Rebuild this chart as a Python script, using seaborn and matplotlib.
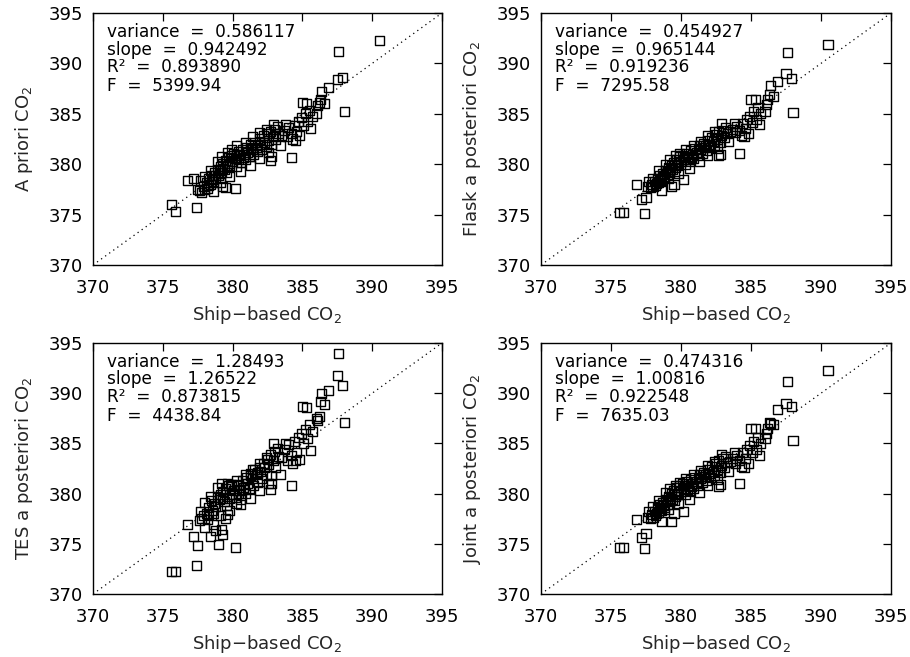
import matplotlib
matplotlib.use("Agg")
import matplotlib.pyplot as plt
import seaborn as sns
import pandas as pd

# Ship-based CO2 (x, shared by all four panels)
ship_co2 = [
    390.5, 387.6, 387.5, 387.9, 386.9, 386.4, 388.0, 385.0, 385.3, 386.3, 386.6, 386.0,
    384.2, 382.9, 382.7, 377.4, 375.6, 375.9, 376.8, 377.2, 377.5, 380.2, 379.3,
    377.6, 377.8, 377.9, 378.0, 378.1, 378.2, 378.3, 378.4, 378.5, 378.6, 378.7, 378.8,
    378.9, 379.0, 379.1, 379.2, 379.3, 379.4, 379.5, 379.6, 379.7, 379.8, 379.9, 380.0,
    380.1, 380.2, 380.3, 380.4, 380.5, 380.6, 380.7, 380.8, 380.9, 381.0, 381.1, 381.2,
    381.3, 381.4, 381.5, 381.6, 381.7, 381.8, 381.9, 382.0, 382.1, 382.2, 382.3, 382.4,
    382.5, 382.6, 382.7, 382.8, 382.9, 383.0, 383.1, 383.3, 383.5, 383.7, 383.9, 384.0,
    384.2, 384.3, 384.4, 384.6, 384.7, 384.8, 384.9, 385.1, 385.2, 385.4, 385.5, 385.6,
    385.7, 386.1, 386.2,
    378.25, 378.75, 379.25, 379.75, 380.25, 380.75, 381.25, 381.75, 380.45, 379.55,
    379.05, 378.55,
    378.9, 379.2, 379.6, 379.9, 380.3, 380.9, 381.4, 381.9, 382.4, 383.2, 383.8, 378.4,
    378.0, 377.7, 379.1, 379.8, 380.6, 381.3, 381.9, 382.6, 383.4, 384.5, 378.6, 379.5,
    382.8,
]

apriori_co2 = [
    392.3, 391.2, 388.4, 388.6, 387.6, 387.2, 385.2, 386.1, 386.0, 386.4, 386.0, 385.0,
    380.7, 383.9, 380.4, 375.7, 376.0, 375.3, 378.4, 378.6, 377.5, 377.6, 377.8,
    377.4, 377.2, 377.8, 377.5, 378.2, 377.6, 378.6, 378.0, 378.9, 378.3, 379.2, 378.6,
    379.5, 378.9, 379.8, 379.2, 380.1, 379.5, 380.4, 379.8, 380.7, 380.1, 380.9, 380.3,
    381.1, 380.6, 379.8, 381.3, 380.9, 380.2, 381.5, 381.0, 380.5, 381.7, 381.2, 380.8,
    382.0, 381.5, 381.0, 382.2, 381.7, 381.3, 382.5, 382.0, 381.5, 382.8, 382.2, 381.8,
    383.0, 382.4, 383.2, 382.0, 382.7, 383.4, 382.5, 383.0, 382.8, 383.3, 382.7, 383.6,
    383.0, 382.5, 383.8, 383.2, 384.2, 382.8, 384.6, 383.8, 385.0, 384.2, 385.3, 383.5,
    384.7, 385.8, 386.1,
    377.9, 378.9, 379.6, 379.9, 380.9, 380.7, 381.6, 381.9, 380.5, 379.2,
    379.4, 378.5,
    380.3, 380.8, 381.2, 381.5, 381.9, 382.2, 382.7, 383.1, 383.4, 383.7, 383.9, 379.4,
    378.8, 378.4, 378.2, 378.8, 379.3, 379.9, 380.6, 381.2, 381.9, 382.4, 377.3, 377.7,
    380.8,
]

flask_co2 = [
    391.9, 391.1, 389.0, 388.5, 388.2, 387.8, 385.1, 386.4, 386.4, 386.9, 386.7, 385.2,
    381.1, 384.0, 380.9, 375.1, 375.2, 375.2, 378.0, 376.5, 376.7, 378.5, 377.8,
    377.8, 377.7, 378.0, 377.8, 378.3, 377.9, 378.6, 378.2, 378.9, 378.4, 379.1, 378.7,
    379.4, 379.0, 379.7, 379.2, 379.9, 379.5, 380.2, 379.7, 380.5, 380.0, 380.8, 380.3,
    380.9, 380.5, 380.0, 381.1, 380.8, 380.3, 381.4, 381.0, 380.6, 381.6, 381.2, 380.9,
    381.9, 381.5, 381.1, 382.1, 381.7, 381.4, 382.4, 382.0, 381.7, 382.6, 382.3, 381.9,
    382.9, 382.5, 383.2, 382.2, 382.8, 383.3, 382.6, 383.0, 383.2, 383.4, 383.1, 383.7,
    383.3, 382.8, 384.0, 383.5, 384.4, 383.0, 384.7, 384.1, 385.2, 384.4, 385.6, 383.9,
    385.0, 385.9, 386.4,
    378.1, 378.8, 379.5, 379.9, 380.7, 380.7, 381.5, 381.9, 380.5, 379.3,
    379.3, 378.5,
    380.0, 380.5, 380.9, 381.1, 381.5, 381.9, 382.3, 382.8, 383.2, 383.6, 384.0, 379.4,
    378.6, 378.3, 378.6, 379.1, 379.6, 380.3, 380.9, 381.6, 382.3, 382.7, 377.4, 378.0,
    381.0,
]

tes_co2 = [
    397.0, 394.0, 391.8, 390.8, 390.3, 390.0, 387.1, 388.7, 388.6, 389.2, 388.9, 387.5,
    380.8, 385.0, 380.4, 372.8, 372.2, 372.2, 376.9, 375.7, 374.8, 374.6, 375.9,
    377.3, 377.5, 377.8, 376.6, 378.0, 377.4, 378.6, 375.7, 379.3, 378.0, 379.0, 376.3,
    379.6, 374.9, 379.9, 376.4, 380.2, 379.2, 380.5, 377.9, 380.8, 379.5, 380.7, 379.9,
    380.3, 379.6, 379.0, 380.8, 380.3, 379.4, 381.3, 380.6, 380.0, 381.6, 381.0, 380.5,
    382.0, 381.5, 380.8, 382.4, 381.9, 381.1, 382.6, 382.2, 381.5, 383.0, 382.6, 381.8,
    383.4, 382.9, 383.9, 381.8, 383.3, 384.2, 382.6, 383.7, 383.6, 384.4, 383.3, 384.9,
    383.8, 383.0, 385.2, 384.1, 385.6, 383.4, 386.0, 385.0, 386.4, 385.5, 386.9, 384.3,
    386.2, 387.3, 387.7,
    377.9, 378.7, 379.5, 379.9, 380.9, 380.4, 381.8, 382.1, 380.0, 378.8,
    379.4, 378.3,
    380.6, 381.0, 381.0, 380.9, 381.3, 381.9, 382.4, 383.0, 383.6, 384.5, 385.0, 379.7,
    379.1, 378.2, 377.8, 378.3, 378.9, 379.5, 380.3, 381.0, 381.9, 383.3, 376.9, 377.5,
    381.0,
]

joint_co2 = [
    392.3, 391.2, 389.0, 388.7, 388.4, 387.0, 385.3, 386.5, 386.5, 387.1, 386.9, 385.5,
    381.0, 383.9, 380.7, 374.5, 374.6, 374.6, 377.4, 375.6, 376.0, 378.2, 377.2,
    377.6, 377.5, 377.9, 377.6, 378.2, 377.8, 378.6, 378.1, 378.9, 378.3, 379.1, 378.6,
    379.4, 378.9, 379.7, 379.2, 380.0, 379.4, 380.3, 379.7, 380.6, 380.0, 380.8, 380.2,
    381.0, 380.5, 379.9, 381.2, 380.8, 380.2, 381.4, 381.0, 380.5, 381.6, 381.2, 380.8,
    381.9, 381.5, 381.1, 382.1, 381.7, 381.3, 382.4, 382.0, 381.6, 382.7, 382.2, 381.8,
    383.0, 382.4, 383.3, 382.1, 382.8, 383.5, 382.6, 383.1, 383.2, 383.5, 383.0, 383.8,
    383.3, 382.7, 384.1, 383.5, 384.4, 383.0, 384.8, 384.1, 385.2, 384.4, 385.6, 383.8,
    385.0, 386.0, 386.5,
    378.0, 378.8, 379.5, 379.9, 380.8, 380.7, 381.5, 381.9, 380.4, 379.3,
    379.3, 378.5,
    380.1, 380.5, 380.8, 381.1, 381.5, 381.9, 382.3, 382.8, 383.2, 383.7, 384.1, 379.3,
    378.7, 378.2, 378.4, 379.0, 379.4, 380.1, 380.8, 381.4, 382.2, 382.6, 377.2, 378.0,
    380.9,
]

ylabels = ["A priori CO$_2$", "Flask a posteriori CO$_2$",
           "TES a posteriori CO$_2$", "Joint a posteriori CO$_2$"]
variances = ["0.586117", "0.454927", "1.28493", "0.474316"]
slopes = ["0.942492", "0.965144", "1.26522", "1.00816"]
r2s = ["0.893890", "0.919236", "0.873815", "0.922548"]
fs = ["5399.94", "7295.58", "4438.84", "7635.03"]
ticks = [370, 375, 380, 385, 390, 395]

sns.set_theme(style="white")
plt.rcParams["font.family"] = ["DejaVu Sans"]
plt.rcParams["mathtext.fontset"] = "dejavusans"

fig = plt.figure(figsize=(9.1, 6.57), dpi=100)
positions = [
    [93 / 910, 1 - 265 / 657, 349 / 910, 252 / 657],
    [541 / 910, 1 - 265 / 657, 350 / 910, 252 / 657],
    [93 / 910, 1 - 594 / 657, 349 / 910, 251 / 657],
    [541 / 910, 1 - 594 / 657, 350 / 910, 251 / 657],
]
series = [apriori_co2, flask_co2, tes_co2, joint_co2]

for i in range(4):
    ax = fig.add_axes(positions[i])
    df = pd.DataFrame({"ship": ship_co2, "model": series[i]})
    ax.plot([ticks[0], ticks[-1]], [ticks[0], ticks[-1]], color="black",
            linestyle=(0, (1, 3)), linewidth=0.9, zorder=1)
    sns.scatterplot(data=df, x="ship", y="model", ax=ax, marker="s", s=42,
                    color="black", facecolors="none", edgecolor="black",
                    linewidth=1.0, zorder=2)
    ax.set_xlim(ticks[0], ticks[-1])
    ax.set_ylim(ticks[0], ticks[-1])
    ax.set_xticks(ticks)
    ax.set_yticks(ticks)
    ax.tick_params(direction="in", length=5.5, width=0.9, top=True, right=True,
                   labelsize=13, colors="black")
    ax.tick_params(axis="x", pad=10)
    ax.tick_params(axis="y", pad=7)
    for sp in ax.spines.values():
        sp.set_color("black")
        sp.set_linewidth(1.0)
    ax.set_xlabel("Ship\u2212based CO$_2$", fontsize=13)
    ax.set_ylabel(ylabels[i], fontsize=13)
    ax.xaxis.set_label_coords(0.5, -0.155)
    ax.yaxis.set_label_coords(-0.165, 0.5)
    lines = ["variance  =  " + variances[i], "slope  =  " + slopes[i],
             "R\u00b2  =  " + r2s[i], "F  =  " + fs[i]]
    ys = [0.925, 0.855, 0.785, 0.71]
    for t, yy in zip(lines, ys):
        ax.text(0.04, yy, t, transform=ax.transAxes, fontsize=12.2,
                ha="left", va="center", color="black")

fig.savefig("out.png", dpi=100)
